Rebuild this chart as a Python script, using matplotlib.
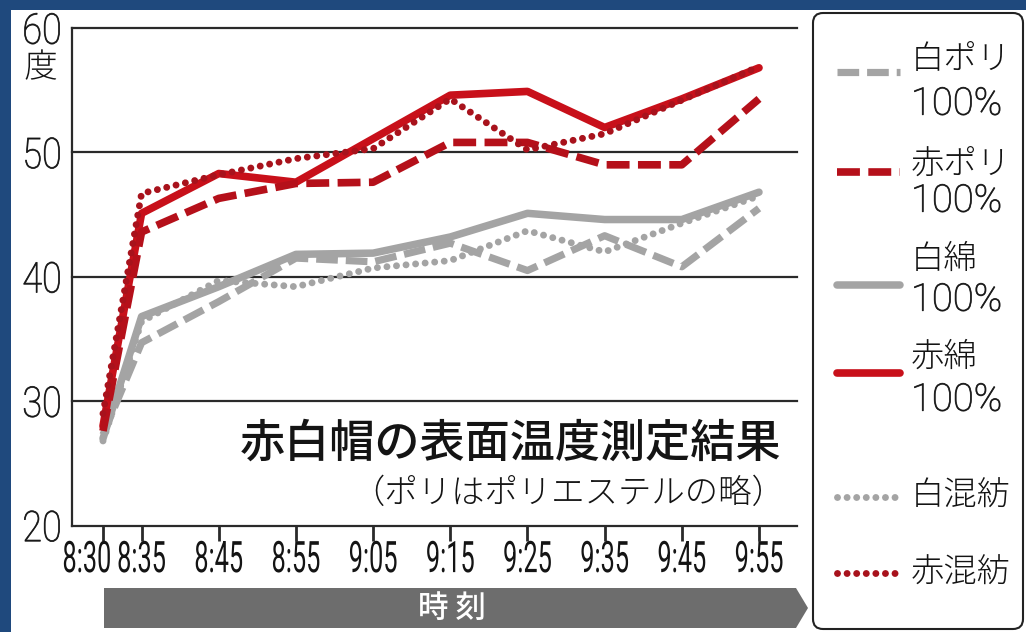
import matplotlib
matplotlib.use('Agg')
import matplotlib.pyplot as plt
from matplotlib.patches import Rectangle, FancyBboxPatch, Polygon
from matplotlib.patheffects import AbstractPathEffect
from matplotlib.transforms import Affine2D, ScaledTranslation
from matplotlib.lines import Line2D

# ---------------- data ----------------
times = ['8:30', '8:35', '8:45', '8:55', '9:05', '9:15', '9:25', '9:35', '9:45', '9:55']
minutes = [0, 5, 15, 25, 35, 45, 55, 65, 75, 85]   # minutes after 8:30

white_poly   = [27.3, 34.7, 38.0, 41.5, 41.2, 42.7, 40.5, 43.3, 40.8, 45.5]
red_poly     = [27.6, 43.6, 46.3, 47.5, 47.6, 50.8, 50.8, 49.0, 49.0, 54.3]
white_cotton = [27.0, 36.8, 39.2, 41.8, 41.9, 43.2, 45.1, 44.6, 44.6, 46.8]
red_cotton   = [28.0, 45.1, 48.3, 47.6, 51.1, 54.6, 54.9, 52.0, 54.3, 56.8]
white_blend  = [26.8, 36.4, 39.7, 39.2, 40.7, 41.3, 43.7, 42.0, 44.3, 46.5]
red_blend    = [29.0, 46.7, 48.2, 49.5, 50.3, 54.3, 50.2, 51.5, 54.2, 56.9]

yticks = [20, 30, 40, 50, 60]
ytick_labels = ['20', '30', '40', '50', '60']

title = '赤白帽の表面温度測定結果'
subtitle = '（ポリはポリエステルの略）'
unit = '度'
xlabel = '時 刻'

# ---------------- styles ----------------
GRAY = '#a4a4a4'
RED = '#c8101a'
RED_D = '#b5101a'
RED_DOT = '#a8121c'
DASH = (0, (3.0, 1.1))
DOT = (0, (0.001, 1.38))

series = [
    ('白綿', '100%', white_cotton, dict(color=GRAY, lw=5.4, ls='-', solid_capstyle='round', solid_joinstyle='round')),
    ('白混紡', None, white_blend, dict(color=GRAY, lw=5.0, ls=DOT, dash_capstyle='round')),
    ('白ポリ', '100%', white_poly, dict(color=GRAY, lw=5.2, ls=DASH, dash_capstyle='butt')),
    ('赤綿', '100%', red_cotton, dict(color=RED, lw=5.5, ls='-', solid_capstyle='round', solid_joinstyle='round')),
    ('赤ポリ', '100%', red_poly, dict(color=RED_D, lw=5.5, ls=DASH, dash_capstyle='butt')),
    ('赤混紡', None, red_blend, dict(color=RED_DOT, lw=5.0, ls=DOT, dash_capstyle='round')),
]
style_of = {s[0]: s[3] for s in series}
l2_of = {s[0]: s[1] for s in series}

CJK = ['Noto Sans CJK JP', 'DejaVu Sans']
NUM = ['Roboto', 'Liberation Sans', 'DejaVu Sans']
TXT = '#141414'


class Scale(AbstractPathEffect):
    """Stretch (and optionally embolden) the drawn glyphs of a text;
    the text itself stays a normal Text artist."""
    def __init__(self, sx=1.0, sy=1.0, anchor='center', stroke=0.0):
        super().__init__((0, 0))
        self.sx, self.sy, self.anchor, self.stroke = sx, sy, anchor, stroke

    def draw_path(self, renderer, gc, tpath, affine, rgbFace=None):
        ext = tpath.get_extents()
        if self.anchor == 'right':
            cx = ext.x1
        elif self.anchor == 'left':
            cx = ext.x0
        else:
            cx = 0.5 * (ext.x0 + ext.x1)
        cy = 0.5 * (ext.y0 + ext.y1)
        t = (Affine2D().translate(-cx, -cy).scale(self.sx, self.sy)
             .translate(cx, cy) + affine)
        if self.stroke > 0 and rgbFace is not None:
            gc0 = renderer.new_gc()
            gc0.copy_properties(gc)
            gc0.set_linewidth(self.stroke)
            gc0.set_foreground(rgbFace)
            gc0.set_joinstyle('round')
            renderer.draw_path(gc0, tpath, t, rgbFace)
            gc0.restore()
        else:
            renderer.draw_path(gc, tpath, t, rgbFace)


W, H = 1026, 632
fig = plt.figure(figsize=(W / 100, H / 100), dpi=100, facecolor='#1f497d')

# overlay in pixel coordinates (background, decorations, legend)
ov = fig.add_axes([0, 0, 1, 1], zorder=0)
ov.set_xlim(0, W)
ov.set_ylim(H, 0)
ov.axis('off')
ov.add_patch(Rectangle((11, 10), W - 11, H - 10, facecolor='white', edgecolor='none'))

# main axes
ax_l, ax_r, ax_t, ax_b = 72, 797, 28, 525.5
ax = fig.add_axes([ax_l / W, 1 - ax_b / H, (ax_r - ax_l) / W, (ax_b - ax_t) / H], zorder=1)
ax.set_facecolor('none')
px_per_min = (759 - 103) / 85
ax.set_xlim(-(103 - ax_l) / px_per_min, (ax_r - 103) / px_per_min)
ax.set_ylim(20, 60)

for side in ['top', 'right']:
    ax.spines[side].set_visible(False)
for side in ['left', 'bottom']:
    ax.spines[side].set_color('#2a2a2a')
    ax.spines[side].set_linewidth(1.6)

for v in yticks[1:]:
    ax.axhline(v, color='#2a2a2a', lw=1.6, zorder=1, clip_on=False)

for name, l2, vals, st in series:
    ax.plot(minutes, vals, zorder=3, **st)

ax.set_yticks(yticks, ytick_labels)
ax.tick_params(axis='y', length=0, pad=7.5)
for lab in ax.get_yticklabels():
    lab.set_fontfamily(NUM)
    lab.set_fontweight('light')
    lab.set_fontsize(24)
    lab.set_color(TXT)
    lab.set_path_effects([Scale(1.08, 1.27, 'right', stroke=0.55)])

ax.set_xticks(minutes, times)
ax.tick_params(axis='x', length=10.5, width=2.0, color='#2a2a2a', direction='out', pad=5.0)
for lab in ax.get_xticklabels():
    lab.set_fontfamily(NUM)
    lab.set_fontsize(19)
    lab.set_color(TXT)
    lab.set_path_effects([Scale(0.96, 1.65, 'center')])
tick0 = ax.xaxis.get_major_ticks()[0]
tick0.label1.set_transform(tick0.label1.get_transform() +
                           ScaledTranslation(-16 / 100, 0, fig.dpi_scale_trans))

# unit label
ov.text(41, 67, unit, family=CJK, fontsize=17, fontweight='light', color=TXT,
        ha='center', va='center', path_effects=[Scale(1.42, 1.42, 'center')])

# title text inside the chart
ov.text(781, 443, title, family=CJK, fontsize=32.5, fontweight='medium', color=TXT,
        ha='right', va='center')
ov.text(785, 494, subtitle, family=CJK, fontsize=24, fontweight='light', color=TXT,
        ha='right', va='center')

# x label bar
ov.add_patch(Polygon([(104, 588), (796, 588), (808, 608), (796, 628), (104, 628)],
                     closed=True, facecolor='#6d6d6d', edgecolor='none'))
ov.text(452, 608, xlabel, family=CJK, fontsize=22, fontweight='medium', color='white',
        ha='center', va='center')

# legend box
ov.add_patch(FancyBboxPatch((813, 13), 210, 616, boxstyle='round,pad=0,rounding_size=10',
                            facecolor='white', edgecolor='#222222', lw=1.5))

legend_layout = [
    # name, line y, text1 y, text2 y
    ('白ポリ', 72, 60, 104),
    ('赤ポリ', 172, 164, 201),
    ('白綿', 285, 260, 300),
    ('赤綿', 373, 357, 400),
    ('白混紡', 497, 497, None),
    ('赤混紡', 573, 573, None),
]
for name, ly, t1, t2 in legend_layout:
    st = style_of[name]
    ov.add_line(Line2D([837, 900], [ly, ly], **st))
    ov.text(911, t1, name, family=CJK, fontsize=24, fontweight='light', color=TXT,
            ha='left', va='center')
    if t2 is not None:
        ov.text(911, t2, l2_of[name], family=NUM, fontsize=27.5, fontweight='light',
                color=TXT, ha='left', va='center',
                path_effects=[Scale(1.0, 1.0, 'left', stroke=0.55)])

fig.savefig('out.png', dpi=100, facecolor=fig.get_facecolor())
